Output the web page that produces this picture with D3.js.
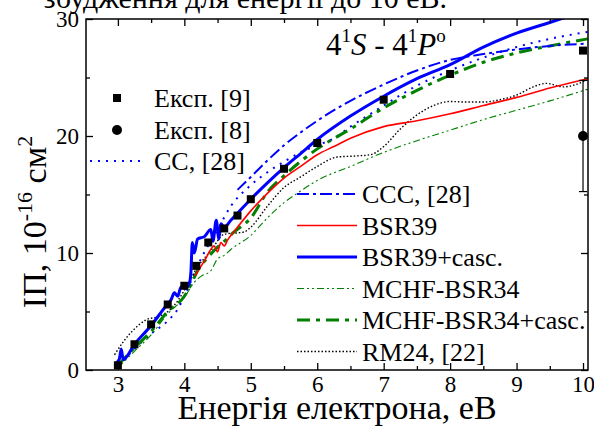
<!DOCTYPE html>
<html>
<head>
<meta charset="utf-8">
<script src="https://cdn.jsdelivr.net/npm/d3@7"></script>
<style>
  body { margin: 0; background: #fff; }
  svg { display: block; }
  svg text { font-family: "Liberation Serif", "DejaVu Serif", serif; }
</style>
</head>
<body>
<svg id="chart" width="594" height="427"></svg>
<script>
// experiment [9] (squares)
const expE9 = [3.0, 3.25, 3.5, 3.75, 4.0, 4.18, 4.36, 4.6, 4.8, 5.0, 5.5, 6.0, 7.0, 8.0, 10.0];
const expY9 = [0.4, 2.2, 3.9, 5.6, 7.2, 8.9, 10.9, 12.1, 13.2, 14.6, 17.2, 19.4, 23.1, 25.3, 27.3];
// experiment [8] (circle with error bar)
const expE8 = [10.0];
const expY8 = [20.0];
const expErr8 = [4.75];

// theory curves, [energy eV, cross section 1e-16 cm2]
const cc28 = [[3.0,0.3],[3.25,1.8],[3.5,3.1],[3.75,4.2],[3.9,5.2],[4.0,6.3],[4.1,7.6],[4.25,9.5],[4.5,12.0],[4.7,14.0],
  [5.0,15.8],[5.25,16.9],[5.5,17.8],[5.75,18.6],[6.0,19.2],[6.25,19.8],[6.5,20.8],[6.75,21.7],[7.0,22.6],[7.5,24.3],
  [8.0,25.6],[8.5,26.7],[9.0,27.6],[9.5,28.3],[10.07,28.9]];
const ccc28 = [[4.8,15.4],[5.0,16.5],[5.25,17.9],[5.5,19.2],[5.75,20.3],[6.0,21.3],[6.5,23.0],[7.0,24.4],[7.5,25.6],
  [8.0,26.5],[8.5,27.0],[9.0,27.4],[9.5,27.7],[10.07,27.9]];
const bsr39 = [[4.16,8.05],[4.3,9.3],[4.45,10.6],[4.5,10.1],[4.55,10.9],[4.6,10.6],[4.65,11.1],[4.8,12.2],[5.0,13.6],
  [5.25,15.1],[5.5,16.4],[5.75,17.4],[6.0,18.4],[6.25,19.1],[6.5,19.8],[7.0,20.8],[7.5,21.3],[8.0,21.9],[8.5,22.6],
  [9.0,23.3],[9.5,24.1],[10.07,24.9]];
const bsr39casc = [[2.95,0.5],[3.02,0.9],[3.05,1.8],[3.08,0.9],[3.25,2.2],[3.5,3.8],[3.7,5.3],[3.8,6.0],[3.85,6.6],
  [3.9,6.3],[3.95,7.1],[4.02,7.0],[4.08,7.5],[4.1,8.5],[4.12,10.9],[4.15,10.0],[4.2,11.2],[4.3,11.4],[4.4,12.0],
  [4.43,11.0],[4.48,12.8],[4.52,11.2],[4.55,12.5],[4.6,12.2],[4.7,12.8],[4.8,13.4],[5.0,14.6],[5.25,16.0],[5.5,17.3],
  [5.75,18.5],[6.0,19.7],[6.5,21.7],[7.0,23.4],[7.5,24.9],[8.0,26.1],[8.5,27.6],[9.0,28.8],[9.5,29.7],[10.07,30.8]];
const mchf34 = [[3.0,0.2],[3.25,1.6],[3.5,3.0],[3.75,4.8],[4.0,6.2],[4.15,7.5],[4.25,8.0],[4.4,8.5],[4.5,9.5],[4.6,9.8],
  [4.7,10.3],[5.0,11.5],[5.25,13.0],[5.5,14.3],[5.75,15.3],[6.0,16.2],[6.5,17.4],[7.0,18.6],[7.5,19.6],[8.0,20.5],
  [8.5,21.4],[9.0,22.2],[9.5,23.0],[10.07,24.0]];
const mchf34casc = [[3.0,0.4],[3.25,1.9],[3.5,3.3],[3.75,5.0],[4.0,6.3],[4.1,7.3],[4.2,8.5],[4.35,9.6],[4.5,10.5],
  [4.6,11.0],[4.75,11.8],[5.0,13.0],[5.25,15.2],[5.5,16.6],[6.0,18.9],[6.5,20.6],[7.0,22.4],[7.5,23.9],[8.0,25.2],
  [8.5,26.3],[9.0,27.1],[9.5,27.7],[10.07,28.3]];
const rm24 = [[2.95,1.3],[3.08,2.4],[3.23,3.4],[3.43,4.3],[3.63,4.6],[3.83,5.4],[4.0,6.8],[4.2,8.8],[4.4,10.2],
  [4.6,11.6],[4.9,11.8],[5.0,12.2],[5.25,14.0],[5.5,15.6],[5.75,16.5],[6.0,17.4],[6.3,18.2],[6.6,18.3],[6.8,18.4],
  [7.0,19.1],[7.25,20.6],[7.5,21.8],[7.75,22.6],[8.0,22.95],[8.25,22.9],[8.5,22.9],[8.75,23.1],[9.0,23.5],[9.25,24.2],
  [9.45,24.5],[9.7,24.2],[10.07,24.8]];

const xMajor = [3, 4, 5, 6, 7, 8, 9, 10];
const xMinor = [3.5, 4.5, 5.5, 6.5, 7.5, 8.5, 9.5];
const yMajor = [0, 10, 20, 30];
const yMinor = [5, 15, 25];

const lineSeries = [
  { data: ccc28, label: "CCC, [28]", color: "#0000ff", width: 2, dash: "12,4,3,4" },
  { data: bsr39, label: "BSR39", color: "#ff0000", width: 1.6, dash: null },
  { data: bsr39casc, label: "BSR39+casc.", color: "#0000ff", width: 3, dash: null },
  { data: mchf34, label: "MCHF-BSR34", color: "#008000", width: 1.1, dash: "7,3,2,3,2,3" },
  { data: mchf34casc, label: "MCHF-BSR34+casc.", color: "#008000", width: 3, dash: "13,6,4,6" },
  { data: rm24, label: "RM24, [22]", color: "#000000", width: 1.4, dash: "1.5,2" }
];
const ccStyle = { data: cc28, label: "CC, [28]", color: "#0000ff", width: 2, dash: "2,6" };

const margin = { top: 19, right: 6, bottom: 57, left: 86 };
const width = 594, height = 427;
const serif = "'Liberation Serif', 'DejaVu Serif', serif";

const svg = d3.select("#chart").attr("font-family", serif);

const x = d3.scaleLinear().domain([2.52, 10.075]).range([margin.left, width - margin.right]);
const y = d3.scaleLinear().domain([0, 30]).range([height - margin.bottom, margin.top]);

// cut-off caption line above the plot
svg.append("text")
  .attr("x", 447).attr("y", 8)
  .attr("text-anchor", "end")
  .attr("font-size", 30)
  .text("збудження для енергії до 10 еВ.");

svg.append("clipPath").attr("id", "plotClip")
  .append("rect")
  .attr("x", x.range()[0]).attr("y", y.range()[1])
  .attr("width", x.range()[1] - x.range()[0])
  .attr("height", y.range()[0] - y.range()[1]);

const plot = svg.append("g").attr("clip-path", "url(#plotClip)");

const line = d3.line()
  .x(d => x(d[0]))
  .y(d => y(d[1]))
  .curve(d3.curveMonotoneX);

function drawSeries(s) {
  plot.append("path")
    .datum(s.data)
    .attr("fill", "none")
    .attr("stroke", s.color)
    .attr("stroke-width", s.width)
    .attr("stroke-dasharray", s.dash)
    .attr("stroke-linejoin", "round")
    .attr("d", line);
}

drawSeries(ccStyle);
[lineSeries[3], lineSeries[5], lineSeries[4], lineSeries[1], lineSeries[0], lineSeries[2]].forEach(drawSeries);

// experiment [9]
plot.selectAll("rect.exp9")
  .data(expE9.map((e, i) => [e, expY9[i]]))
  .join("rect")
  .attr("class", "exp9")
  .attr("x", d => x(d[0]) - 4).attr("y", d => y(d[1]) - 4)
  .attr("width", 8).attr("height", 8)
  .attr("fill", "#000");

// experiment [8] with error bar
const exp8 = expE8.map((e, i) => ({ e: e, v: expY8[i], err: expErr8[i] }));
const eb = svg.append("g").attr("stroke", "#000").attr("stroke-width", 1.2);
exp8.forEach(d => {
  eb.append("line").attr("x1", x(d.e)).attr("x2", x(d.e)).attr("y1", y(d.v + d.err)).attr("y2", y(d.v - d.err));
  [d.v + d.err, d.v - d.err].forEach(v => {
    eb.append("line").attr("x1", x(d.e) - 4).attr("x2", x(d.e) + 4).attr("y1", y(v)).attr("y2", y(v));
  });
  svg.append("circle").attr("cx", x(d.e)).attr("cy", y(d.v)).attr("r", 5).attr("fill", "#000");
});

// axes, ticks pointing inward on all four sides
const axisG = svg.append("g");
function addAxis(axis, transform, labels) {
  const g = axisG.append("g").attr("transform", transform).call(axis);
  g.attr("font-family", serif).attr("font-size", 23);
  g.select(".domain").remove();
  g.selectAll(".tick line").attr("stroke", "#000").attr("stroke-width", 1.3);
  g.selectAll(".tick text").attr("fill", "#000");
  if (!labels) g.selectAll(".tick text").remove();
  return g;
}
const yb = y.range()[0], yt = y.range()[1], xl = x.range()[0], xr = x.range()[1];
addAxis(d3.axisBottom(x).tickValues(xMajor).tickSize(-7).tickPadding(6).tickFormat(d3.format("d")), `translate(0,${yb})`, true);
addAxis(d3.axisBottom(x).tickValues(xMinor).tickSize(-4), `translate(0,${yb})`, false);
addAxis(d3.axisTop(x).tickValues(xMajor).tickSize(-7), `translate(0,${yt})`, false);
addAxis(d3.axisTop(x).tickValues(xMinor).tickSize(-4), `translate(0,${yt})`, false);
addAxis(d3.axisLeft(y).tickValues(yMajor).tickSize(-7).tickPadding(7).tickFormat(d3.format("d")), `translate(${xl},0)`, true);
addAxis(d3.axisLeft(y).tickValues(yMinor).tickSize(-4), `translate(${xl},0)`, false);
addAxis(d3.axisRight(y).tickValues(yMajor).tickSize(-7), `translate(${xr},0)`, false);
addAxis(d3.axisRight(y).tickValues(yMinor).tickSize(-4), `translate(${xr},0)`, false);

svg.append("rect")
  .attr("x", xl).attr("y", yt)
  .attr("width", xr - xl).attr("height", yb - yt)
  .attr("fill", "none").attr("stroke", "#000").attr("stroke-width", 1.5);

// axis titles
svg.append("text")
  .attr("x", 337).attr("y", 419)
  .attr("text-anchor", "middle")
  .attr("font-size", 34)
  .text("Енергія електрона, еВ");

const yTitle = svg.append("text")
  .attr("transform", "translate(46,222) rotate(-90)")
  .attr("text-anchor", "middle")
  .attr("font-size", 34);
yTitle.append("tspan").text("ІП, 10");
yTitle.append("tspan").attr("dy", -14).attr("font-size", 22).text("-16");
yTitle.append("tspan").attr("dy", 14).text(" см");
yTitle.append("tspan").attr("dy", -14).attr("font-size", 22).text("2");

// transition label
const tl = svg.append("text").attr("x", 326).attr("y", 55).attr("font-size", 31);
tl.append("tspan").text("4");
tl.append("tspan").attr("dy", -13).attr("font-size", 19).text("1");
tl.append("tspan").attr("dy", 13).attr("font-style", "italic").text("S");
tl.append("tspan").text(" - 4");
tl.append("tspan").attr("dy", -13).attr("font-size", 19).text("1");
tl.append("tspan").attr("dy", 13).attr("font-style", "italic").text("P");
tl.append("tspan").attr("dy", -13).attr("font-size", 19).text("o");

// left legend
const legL = svg.append("g").attr("font-size", 26);
legL.append("rect").attr("x", 113).attr("y", 94).attr("width", 8).attr("height", 8).attr("fill", "#000");
legL.append("text").attr("x", 154).attr("y", 107).text("Експ. [9]");
legL.append("circle").attr("cx", 117).attr("cy", 130).attr("r", 5).attr("fill", "#000");
legL.append("text").attr("x", 154).attr("y", 139).text("Експ. [8]");
legL.append("line").attr("x1", 90).attr("x2", 140).attr("y1", 161).attr("y2", 161)
  .attr("stroke", ccStyle.color).attr("stroke-width", ccStyle.width).attr("stroke-dasharray", ccStyle.dash);
legL.append("text").attr("x", 154).attr("y", 170).text(ccStyle.label);

// right legend
const legR = svg.append("g").attr("font-size", 26);
lineSeries.forEach((s, i) => {
  const ly = 194 + i * 31.5;
  legR.append("line").attr("x1", 297).attr("x2", 357).attr("y1", ly).attr("y2", ly)
    .attr("stroke", s.color).attr("stroke-width", s.width).attr("stroke-dasharray", s.dash);
  legR.append("text").attr("x", 362).attr("y", ly + 9).text(s.label);
});
</script>
</body>
</html>
